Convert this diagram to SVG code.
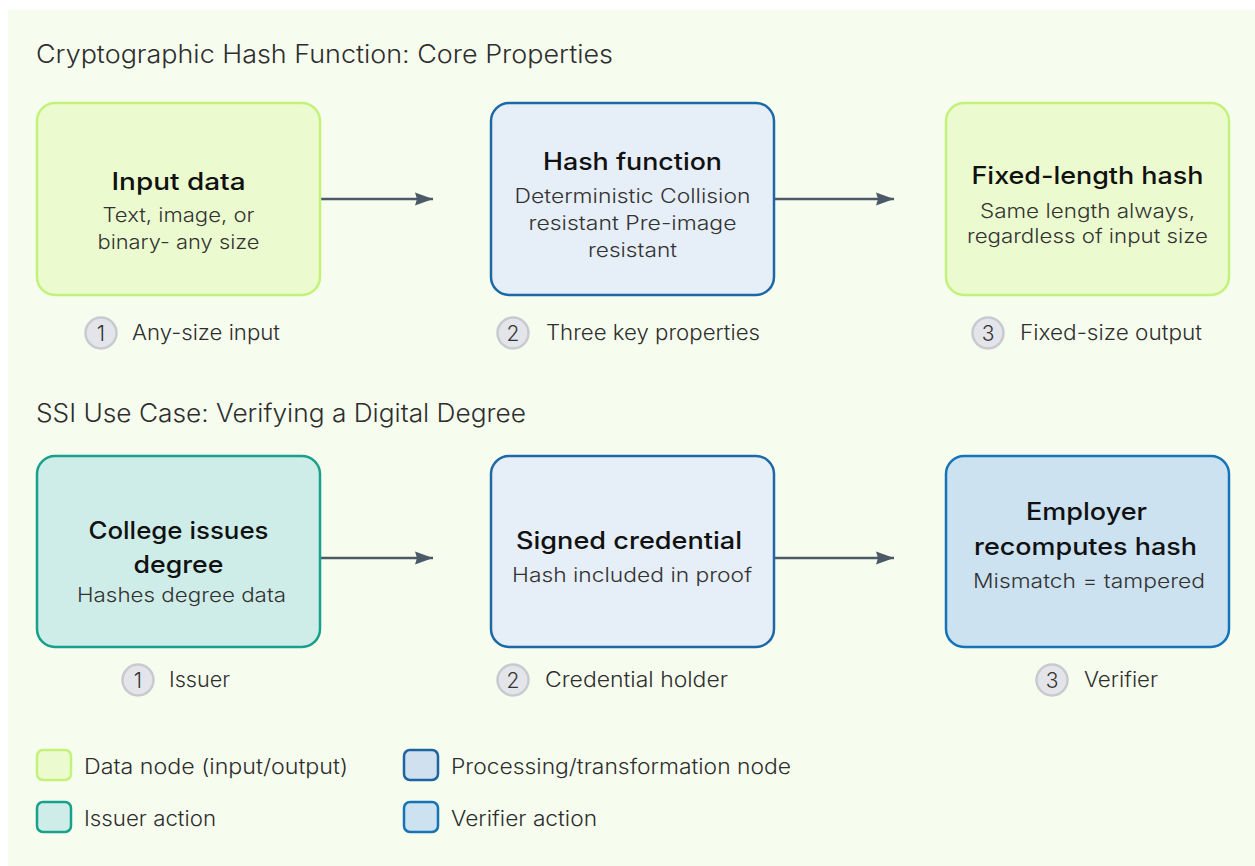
<svg xmlns="http://www.w3.org/2000/svg" width="1255" height="866" viewBox="0 0 1255 866">
<style>
.t{font-family:Inter,"Noto Sans","DejaVu Sans",sans-serif}
.h{font-size:25px;font-weight:300;fill:#2e2e2e}
.nt{font-size:24px;font-weight:500;fill:#111;text-anchor:middle}
.ns{font-size:19.5px;font-weight:300;fill:#333;text-anchor:middle}
.sl{font-size:21px;font-weight:300;fill:#2e2e2e}
.sn{font-size:21px;font-weight:300;fill:#333;text-anchor:middle}
.lg{font-size:21px;font-weight:300;fill:#2e2e2e}
.data{fill:#ecfbcf;stroke:#c2f27a;stroke-width:2.5}
.proc{fill:#e6eef8;stroke:#1d68a6;stroke-width:2.5}
.iss{fill:#cfede8;stroke:#17a08b;stroke-width:2.5}
.ver{fill:#cce2f1;stroke:#1474b6;stroke-width:2.5}
.circ{fill:#e4e5ea;stroke:#c9cacf;stroke-width:2.5}
.edge{stroke:#4b5a66;stroke-width:2.5;fill:none;marker-end:url(#ah)}
</style>
<defs>
<marker id="ah" markerWidth="18" markerHeight="14" refX="18" refY="7" orient="auto" markerUnits="userSpaceOnUse">
<path d="M0,0.5 L18,7 L0,13.5 L2,7 z" fill="#4b5a66"/>
</marker>
</defs>
<rect x="0" y="0" width="1255" height="866" fill="#ffffff"/>
<rect x="8" y="10" width="1247" height="856" fill="#f7fdee"/>

<text class="t h" x="36" y="63" textLength="577" lengthAdjust="spacingAndGlyphs">Cryptographic Hash Function: Core Properties</text>
<text class="t h" x="36" y="422" textLength="490" lengthAdjust="spacingAndGlyphs">SSI Use Case: Verifying a Digital Degree</text>

<g id="connectors">
<line class="edge" x1="321" y1="199" x2="433" y2="199"/>
<line class="edge" x1="775" y1="199" x2="894" y2="199"/>
<line class="edge" x1="321" y1="558" x2="433" y2="558"/>
<line class="edge" x1="775" y1="558" x2="894" y2="558"/>
</g>

<g id="node-input">
<rect class="data" x="37" y="103" width="283" height="192" rx="18"/>
<text class="t nt" x="178.5" y="190" textLength="134" lengthAdjust="spacingAndGlyphs">Input data</text>
<text class="t ns" x="178.5" y="222" textLength="152" lengthAdjust="spacingAndGlyphs">Text, image, or</text>
<text class="t ns" x="178.5" y="249" textLength="162" lengthAdjust="spacingAndGlyphs">binary- any size</text>
</g>
<g id="node-hash">
<rect class="proc" x="491" y="103" width="283" height="192" rx="18"/>
<text class="t nt" x="632.5" y="170" textLength="179" lengthAdjust="spacingAndGlyphs">Hash function</text>
<text class="t ns" x="632.5" y="203" textLength="236" lengthAdjust="spacingAndGlyphs">Deterministic Collision</text>
<text class="t ns" x="632.5" y="230" textLength="208" lengthAdjust="spacingAndGlyphs">resistant Pre-image</text>
<text class="t ns" x="632.5" y="257" textLength="89" lengthAdjust="spacingAndGlyphs">resistant</text>
</g>
<g id="node-fixed">
<rect class="data" x="946" y="103" width="283" height="192" rx="18"/>
<text class="t nt" x="1087.5" y="184" textLength="232" lengthAdjust="spacingAndGlyphs">Fixed-length hash</text>
<text class="t ns" x="1087.5" y="218" textLength="215" lengthAdjust="spacingAndGlyphs">Same length always,</text>
<text class="t ns" x="1087.5" y="243" textLength="241" lengthAdjust="spacingAndGlyphs">regardless of input size</text>
</g>

<g id="step-1a">
<circle class="circ" cx="101" cy="333" r="15.5"/>
<text class="t sn" x="101" y="341">1</text>
<text class="t sl" x="132" y="340" textLength="148" lengthAdjust="spacingAndGlyphs">Any-size input</text>
</g>
<g id="step-2a">
<circle class="circ" cx="513" cy="333" r="15.5"/>
<text class="t sn" x="513" y="341">2</text>
<text class="t sl" x="546" y="340" textLength="214" lengthAdjust="spacingAndGlyphs">Three key properties</text>
</g>
<g id="step-3a">
<circle class="circ" cx="988" cy="333" r="15.5"/>
<text class="t sn" x="988" y="341">3</text>
<text class="t sl" x="1020" y="340" textLength="182" lengthAdjust="spacingAndGlyphs">Fixed-size output</text>
</g>

<g id="node-college">
<rect class="iss" x="37" y="456" width="283" height="191" rx="18"/>
<text class="t nt" x="178.5" y="539" textLength="180" lengthAdjust="spacingAndGlyphs">College issues</text>
<text class="t nt" x="178.5" y="573" textLength="90" lengthAdjust="spacingAndGlyphs">degree</text>
<text class="t ns" x="181.5" y="602" textLength="209" lengthAdjust="spacingAndGlyphs">Hashes degree data</text>
</g>
<g id="node-signed">
<rect class="proc" x="491" y="456" width="283" height="191" rx="18"/>
<text class="t nt" x="629" y="549" textLength="226" lengthAdjust="spacingAndGlyphs">Signed credential</text>
<text class="t ns" x="632" y="582" textLength="240" lengthAdjust="spacingAndGlyphs">Hash included in proof</text>
</g>
<g id="node-employer">
<rect class="ver" x="946" y="456" width="283" height="191" rx="18"/>
<text class="t nt" x="1086.5" y="520" textLength="121" lengthAdjust="spacingAndGlyphs">Employer</text>
<text class="t nt" x="1085.5" y="555" textLength="223" lengthAdjust="spacingAndGlyphs">recomputes hash</text>
<text class="t ns" x="1089" y="588" textLength="232" lengthAdjust="spacingAndGlyphs">Mismatch = tampered</text>
</g>

<g id="step-1b">
<circle class="circ" cx="138" cy="680" r="15.5"/>
<text class="t sn" x="138" y="688">1</text>
<text class="t sl" x="169" y="687" textLength="61" lengthAdjust="spacingAndGlyphs">Issuer</text>
</g>
<g id="step-2b">
<circle class="circ" cx="513" cy="680" r="15.5"/>
<text class="t sn" x="513" y="688">2</text>
<text class="t sl" x="545" y="687" textLength="183" lengthAdjust="spacingAndGlyphs">Credential holder</text>
</g>
<g id="step-3b">
<circle class="circ" cx="1052" cy="680" r="15.5"/>
<text class="t sn" x="1052" y="688">3</text>
<text class="t sl" x="1084" y="687" textLength="74" lengthAdjust="spacingAndGlyphs">Verifier</text>
</g>

<g id="legend">
<rect class="data" x="37" y="750" width="34" height="30" rx="6"/>
<text class="t lg" x="84" y="774" textLength="264" lengthAdjust="spacingAndGlyphs">Data node (input/output)</text>
<rect x="404" y="750" width="34" height="30" rx="6" fill="#d0e0ef" stroke="#1d64a0" stroke-width="2.5"/>
<text class="t lg" x="451" y="774" textLength="340" lengthAdjust="spacingAndGlyphs">Processing/transformation node</text>
<rect class="iss" x="37" y="802" width="34" height="30" rx="6"/>
<text class="t lg" x="84" y="826" textLength="132" lengthAdjust="spacingAndGlyphs">Issuer action</text>
<rect class="ver" x="404" y="802" width="34" height="30" rx="6"/>
<text class="t lg" x="451" y="826" textLength="146" lengthAdjust="spacingAndGlyphs">Verifier action</text>
</g>
</svg>
